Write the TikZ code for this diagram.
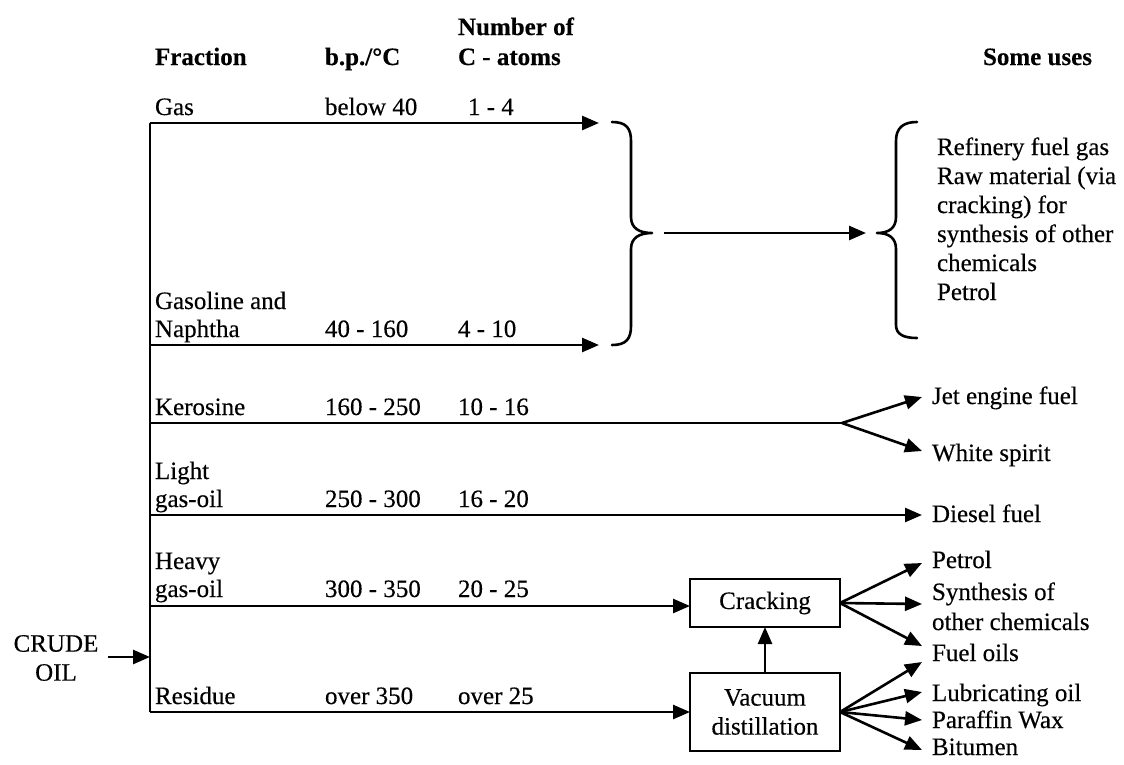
\documentclass[tikz,border=0pt]{standalone}
\usepackage{fontspec}
\setmainfont{Liberation Serif}[FakeBold=0.35]
\usetikzlibrary{arrows.meta}
\begin{document}
\begin{tikzpicture}[x=1pt,y=-1pt,
  every node/.style={inner sep=0pt, outer sep=0pt, font=\fontsize{25}{29}\selectfont},
  lbl/.style={anchor=base west},
  hdr/.style={anchor=base west, font=\fontsize{25}{29}\selectfont\bfseries},
  ln/.style={line width=2.6pt},
  arr/.style={line width=2.6pt, -{Triangle[length=17pt,width=14pt]}},
  procbox/.style={draw, line width=2.4pt, minimum width=150pt, align=center},
  brace/.style={line width=2.6pt, line cap=round, line join=round},
]
\useasboundingbox (0,0) rectangle (1124,764);

% headers
\node[hdr] (hFrac) at (155,65) {Fraction};
\node[hdr] (hBp) at (325,65) {b.p./°C};
\node[hdr] (hNum1) at (458,35) {Number of};
\node[hdr] (hNum2) at (458,65) {C - atoms};
\node[hdr] (hUses) at (983,65) {Some uses};

% fraction column
\node[lbl] (fGas) at (155,115) {Gas};
\node[lbl] (fGaso) at (155,309) {Gasoline and};
\node[lbl] (fNap) at (155,337) {Naphtha};
\node[lbl] (fKer) at (155,415) {Kerosine};
\node[lbl] (fLig1) at (155,479) {Light};
\node[lbl] (fLig2) at (155,507) {gas-oil};
\node[lbl] (fHea1) at (155,569) {Heavy};
\node[lbl] (fHea2) at (155,597) {gas-oil};
\node[lbl] (fRes) at (155,704) {Residue};

% b.p. column
\node[lbl] (bGas) at (325,115) {below 40};
\node[lbl] (bNap) at (325,337) {40 - 160};
\node[lbl] (bKer) at (325,415) {160 - 250};
\node[lbl] (bLig) at (325,507) {250 - 300};
\node[lbl] (bHea) at (325,597) {300 - 350};
\node[lbl] (bRes) at (325,704) {over 350};

% carbon column
\node[lbl] (cGas) at (468,115) {1 - 4};
\node[lbl] (cNap) at (458,337) {4 - 10};
\node[lbl] (cKer) at (458,415) {10 - 16};
\node[lbl] (cLig) at (458,507) {16 - 20};
\node[lbl] (cHea) at (458,597) {20 - 25};
\node[lbl] (cRes) at (458,704) {over 25};

% crude oil
\node[align=center] (crude) at (56,658) {CRUDE\\OIL};

% trunk coordinates
\coordinate (tTop) at (150,123);
\coordinate (tNap) at (150,345);
\coordinate (tKer) at (150,423);
\coordinate (tLig) at (150,515);
\coordinate (tHea) at (150,606);
\coordinate (tCru) at (150,657);
\coordinate (tBot) at (150,712);
\coordinate (crA) at (108,657);

\draw[ln] (tTop) -- (tBot);
\draw[arr] (crA) -- (tCru);

% gas & naphtha
\coordinate (gasR) at (599,123);
\coordinate (napR) at (599,345);
\draw[arr] (tTop) -- (gasR);
\draw[arr] (tNap) -- (napR);

% left brace
\coordinate (lbTip) at (652,233);
\draw[brace] (612,122) .. controls (626,122) and (631,128) .. (631,141) -- (631,217)
  .. controls (631,228) and (639,233) .. (lbTip)
  .. controls (639,233) and (631,238) .. (631,249) -- (631,326)
  .. controls (631,339) and (626,345) .. (612,345);

% right brace
\coordinate (rbTip) at (877,233);
\draw[brace] (917,122) .. controls (903,122) and (896,128) .. (896,141) -- (896,217)
  .. controls (896,228) and (889,233) .. (rbTip)
  .. controls (889,233) and (896,238) .. (896,249) -- (896,325)
  .. controls (896,334) and (903,338) .. (917,338);

\draw[arr, shorten <=12pt, shorten >=11pt] (lbTip) -- (rbTip);

% uses for gas
\node[lbl] (u1) at (937,155) {Refinery fuel gas};
\node[lbl] (u2) at (937,184) {Raw material (via};
\node[lbl] (u3) at (937,213) {cracking) for};
\node[lbl] (u4) at (937,242) {synthesis of other};
\node[lbl] (u5) at (937,271) {chemicals};
\node[lbl] (u6) at (937,300) {Petrol};

% kerosine
\coordinate (kerSplit) at (842,423);
\coordinate (jetT) at (922,397);
\coordinate (whiT) at (922,451);
\draw[ln] (tKer) -- (kerSplit);
\draw[arr] (kerSplit) -- (jetT);
\draw[arr] (kerSplit) -- (whiT);
\node[lbl] (jet) at (932,404) {Jet engine fuel};
\node[lbl] (whi) at (932,461) {White spirit};

% light gas oil
\coordinate (dieT) at (922,515);
\draw[arr] (tLig) -- (dieT);
\node[lbl] (die) at (932,522) {Diesel fuel};

% process boxes
\node[procbox, minimum height=48pt] (crack) at (765,603) {Cracking};
\node[procbox, minimum height=78pt] (vac) at (765,712) {Vacuum\\distillation};

\draw[arr] (tHea) -- (tHea -| crack.west);
\draw[arr] (tBot) -- (vac.west);
\draw[arr] (vac.north) -- (crack.south);

% cracking products
\coordinate (petT) at (922,563);
\coordinate (synT) at (922,604);
\coordinate (fueT) at (922,646);
\draw[arr] (crack.east) -- (petT);
\draw[arr] (crack.east) -- (synT);
\draw[arr] (crack.east) -- (fueT);
\node[lbl] (pet) at (932,568) {Petrol};
\node[lbl] (syn1) at (932,600) {Synthesis of};
\node[lbl] (syn2) at (932,630) {other chemicals};
\node[lbl] (fue) at (932,661) {Fuel oils};

% vacuum products
\coordinate (fu2T) at (922,662);
\coordinate (lubT) at (922,692);
\coordinate (parT) at (922,720);
\coordinate (bitT) at (922,750);
\draw[arr] (vac.east) -- (fu2T);
\draw[arr] (vac.east) -- (lubT);
\draw[arr] (vac.east) -- (parT);
\draw[arr] (vac.east) -- (bitT);
\node[lbl] (lub) at (932,701) {Lubricating oil};
\node[lbl] (par) at (932,728) {Paraffin Wax};
\node[lbl] (bit) at (932,755) {Bitumen};
\end{tikzpicture}
\end{document}
